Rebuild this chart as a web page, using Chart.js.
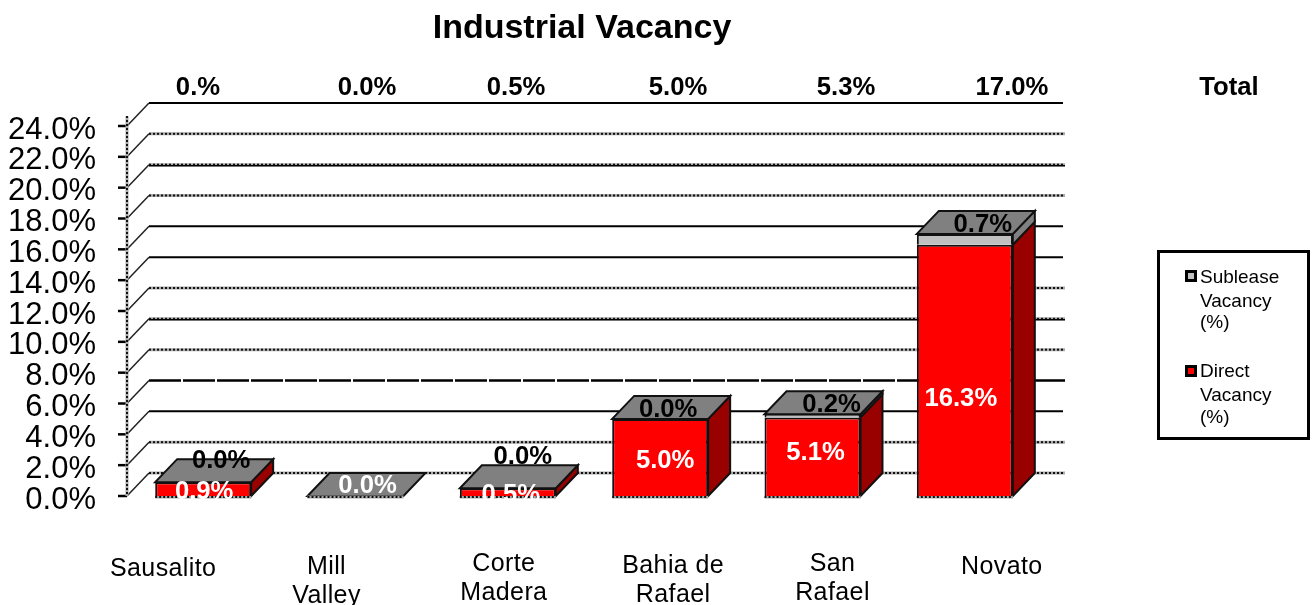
<!DOCTYPE html>
<html><head><meta charset="utf-8">
<style>html,body{margin:0;padding:0;background:#fff}#w{width:1314px;height:605px;position:relative}</style>
<script src="https://cdn.jsdelivr.net/npm/chart.js@4"></script></head>
<body><div id="w"><canvas id="c" width="1314" height="605"></canvas></div>
<script>
const titleText = 'Industrial Vacancy';
const categories = [['Sausalito'],['Mill','Valley'],['Corte','Madera'],['Bahia de','Rafael'],['San','Rafael'],['Novato']];
const directVacancy = [0.9,0.0,0.5,5.0,5.1,16.3];
const subleaseVacancy = [0.0,0.0,0.0,0.0,0.2,0.7];
const totalLabels = ['0.%','0.0%','0.5%','5.0%','5.3%','17.0%'];
const totalHeader = 'Total';
const directName = ['Direct','Vacancy','(%)'];
const subleaseName = ['Sublease','Vacancy','(%)'];

// layout constants
const FONT='"Liberation Sans", Arial, sans-serif';
const DX=22, DY=23;
const gridStyles=['dot','dot','solid','dash','dot','heavy','dot','solid','solid','dot','heavy','dot','solid']; // from 0 up, per tick
const catLabelDx=[-40,-29,-4,13,20,37], catLabelY=[567,565,562,564,562,565];
const totalX=[198,367,516,678,846,1012];
const directNudge=[[1,1],[12,-12],[3,1],[5,1],[3,-6],[-4,27]];
const subleaseNudge=[[18,-12],null,[15,-22],[8,0],[19,0],[18,0]];

function strokeStyled(ctx,x1,y1,x2,y2,style){
  ctx.save();
  if(style==='solid'){ctx.strokeStyle='#000';ctx.lineWidth=2;ctx.beginPath();ctx.moveTo(x1,y1);ctx.lineTo(x2,y2);ctx.stroke();}
  else if(style==='dash'){ctx.strokeStyle='#000';ctx.lineWidth=2.5;ctx.setLineDash([32,2]);ctx.beginPath();ctx.moveTo(x1,y1);ctx.lineTo(x2,y2);ctx.stroke();}
  else{
    ctx.strokeStyle='#aaa';ctx.lineWidth=3;ctx.beginPath();ctx.moveTo(x1,y1);ctx.lineTo(x2,y2);ctx.stroke();
    ctx.strokeStyle='#111';ctx.lineWidth=2;ctx.setLineDash([2,2]);ctx.beginPath();ctx.moveTo(x1,y1);ctx.lineTo(x2,y2);ctx.stroke();
    if(style==='heavy'){ctx.setLineDash([]);ctx.lineWidth=1.5;ctx.strokeStyle='#000';ctx.beginPath();ctx.moveTo(x1,y1+1);ctx.lineTo(x2,y2+1);ctx.stroke();}
  }
  ctx.restore();
}
function poly(ctx,pts,fill,lw){
  ctx.beginPath();pts.forEach((p,i)=>i?ctx.lineTo(p[0],p[1]):ctx.moveTo(p[0],p[1]));ctx.closePath();
  ctx.fillStyle=fill;ctx.fill();ctx.lineWidth=lw||2;ctx.strokeStyle='#111';ctx.stroke();
}
function label(ctx,t,x,y,font,color,align,spacing){
  ctx.font=font;ctx.letterSpacing=spacing||'0px';ctx.fillStyle=color;ctx.textAlign=align||'center';ctx.textBaseline='middle';ctx.fillText(t,x,y+2);ctx.letterSpacing='0px';
}
const scene={
  id:'scene',
  beforeDatasetsDraw(chart){
    const {ctx,scales:{x,y},chartArea:a}=chart;
    ctx.save();
    y.ticks.forEach((t,i)=>{
      const py=y.getPixelForValue(t.value);
      ctx.strokeStyle='#222';ctx.lineWidth=1.5;ctx.beginPath();ctx.moveTo(a.left,py);ctx.lineTo(a.left+DX,py-DY);ctx.stroke();
      strokeStyled(ctx,a.left+DX,py-DY,a.right+DX+(gridStyles[i]==='solid'?0:2),py-DY,gridStyles[i]);
      ctx.strokeStyle='#000';ctx.lineWidth=2.5;ctx.beginPath();ctx.moveTo(a.left-9,py);ctx.lineTo(a.left,py);ctx.stroke();
    });
    strokeStyled(ctx,a.left,y.getPixelForValue(24)-10,a.left,y.getPixelForValue(0),'dot');
    const m0=chart.getDatasetMeta(0).data;
    m0.forEach((b,i)=>{
      const half=b.width/2, L=b.x-half, R=b.x+half, base=y.getPixelForValue(0);
      const top0=y.getPixelForValue(directVacancy[i]);
      const top1=y.getPixelForValue(directVacancy[i]+subleaseVacancy[i]);
      if(directVacancy[i]>0) poly(ctx,[[R,base],[R+DX,base-DY],[R+DX,top0-DY],[R,top0]],'#990000');
      if(subleaseVacancy[i]>0) poly(ctx,[[R,top0],[R+DX,top0-DY],[R+DX,top1-DY],[R,top1]],'#808080');
      poly(ctx,[[L,top1],[L+DX,top1-DY],[R+DX,top1-DY],[R,top1]],'#808080');
      strokeStyled(ctx,L,base+1,R,base+1,'dot');
    });
    ctx.restore();
  },
  afterDatasetsDraw(chart){
    const {ctx,scales:{x,y}}=chart;
    ctx.save();
    const m0=chart.getDatasetMeta(0).data;
    const bold='bold 25.7px '+FONT;
    m0.forEach((b,i)=>{
      const base=y.getPixelForValue(0), top0=y.getPixelForValue(directVacancy[i]);
      const top1=y.getPixelForValue(directVacancy[i]+subleaseVacancy[i]);
      const n=directNudge[i];
      label(ctx,directVacancy[i].toFixed(1)+'%',b.x+n[0],(base+top0)/2+n[1],bold,'#fff');
      const s=subleaseNudge[i];
      if(s) label(ctx,subleaseVacancy[i].toFixed(1)+'%',b.x+s[0],top1-DY/2+s[1],bold,'#000');
      label(ctx,totalLabels[i],totalX[i],86,bold,'#000');
      categories[i].forEach((line,k)=>{
        label(ctx,line,x.getPixelForValue(i)+catLabelDx[i],catLabelY[i]+k*29.5,'25px '+FONT,'#000','center','0.4px');
      });
    });
    label(ctx,totalHeader,1229,86,bold,'#000');
    label(ctx,titleText,582,27,'bold 34px '+FONT,'#000');
    ctx.fillStyle='#fff';ctx.strokeStyle='#000';ctx.lineWidth=3;ctx.fillRect(1158.5,251.5,150,187);ctx.strokeRect(1158.5,251.5,150,187);
    const legendFont='19px '+FONT;
    const ds=chart.data.datasets;
    [[ds[1],subleaseName,[276,300,321],276],[ds[0],directName,[370,394,416],371]].forEach(([d,lines,ys,my])=>{
      ctx.fillStyle=d.backgroundColor;ctx.fillRect(1186.5,my-4.5,9,9);
      ctx.strokeStyle='#000';ctx.lineWidth=3;ctx.strokeRect(1186.5,my-4.5,9,9);
      lines.forEach((l,k)=>label(ctx,l,1200,ys[k],legendFont,'#000','left'));
    });
    ctx.restore();
  }
};
Chart.defaults.font.family=FONT;
new Chart(document.getElementById('c'),{
  type:'bar',
  data:{
    labels:categories.map(c=>c.join(' ')),
    datasets:[
      {label:directName.join(' '),data:directVacancy,backgroundColor:'#ff0000',borderColor:'#111',borderWidth:2,categoryPercentage:1,barPercentage:0.63,stack:'a'},
      {label:subleaseName.join(' '),data:subleaseVacancy,backgroundColor:'#c0c0c0',borderColor:'#111',borderWidth:2,categoryPercentage:1,barPercentage:0.63,stack:'a'}
    ]
  },
  options:{
    responsive:false,animation:false,
    layout:{padding:{left:0,top:126,right:273,bottom:109}},
    plugins:{legend:{display:false},title:{display:false},tooltip:{enabled:false}},
    scales:{
      x:{stacked:true,display:false,grid:{display:false}},
      y:{stacked:true,min:0,max:24,
        afterFit(s){s.width=127;},
        border:{display:false},
        grid:{display:false,drawTicks:false},
        ticks:{stepSize:2,padding:31,labelOffset:4,color:'#000',font:{size:31,family:FONT},autoSkip:false,callback:v=>v.toFixed(1)+'%'}}
    }
  },
  plugins:[scene]
});
</script></body></html>
